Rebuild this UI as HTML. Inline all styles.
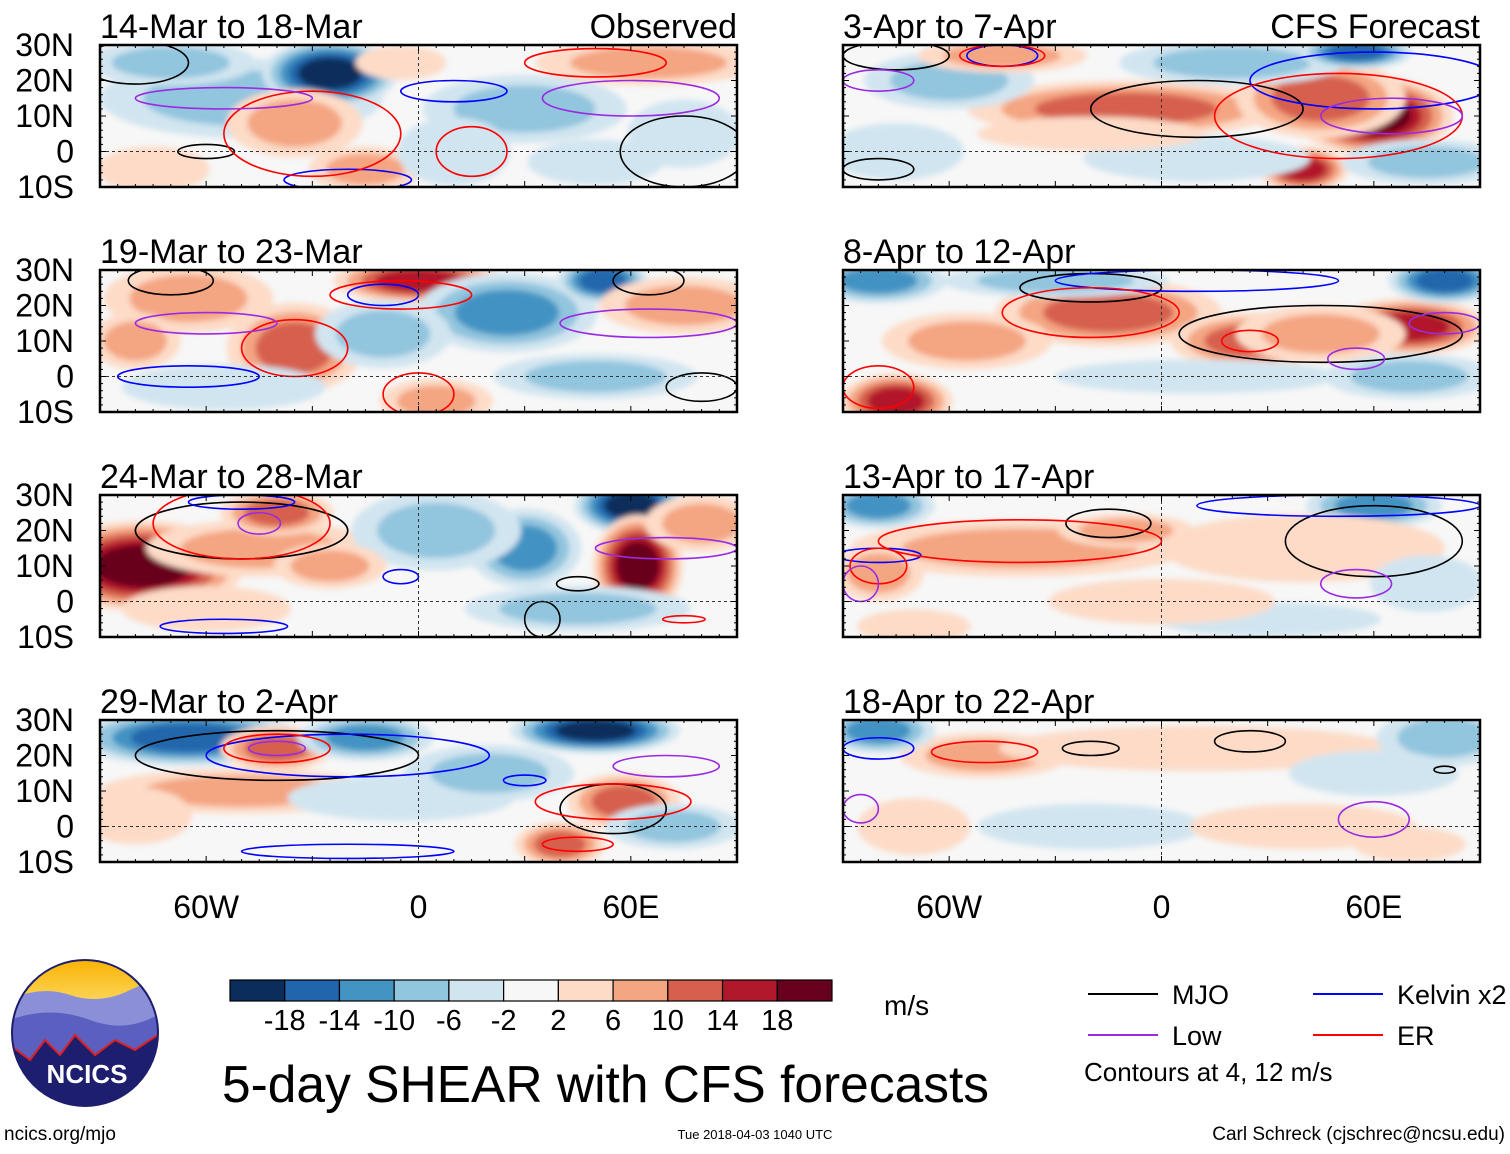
<!DOCTYPE html>
<html><head><meta charset="utf-8">
<style>
body{margin:0;background:#fff;width:1510px;height:1149px;overflow:hidden;font-family:"Liberation Sans",sans-serif}
svg text{font-family:"Liberation Sans",sans-serif}
</style></head>
<body>
<svg id="chart" width="1510" height="1149" xmlns="http://www.w3.org/2000/svg">
<defs>
<filter id="blur" x="-20%" y="-20%" width="140%" height="140%"><feGaussianBlur stdDeviation="3"/></filter>
<linearGradient id="sky" x1="0" y1="0" x2="0" y2="1"><stop offset="0" stop-color="#f9b200"/><stop offset="0.4" stop-color="#fde27a"/><stop offset="1" stop-color="#fff3c0"/></linearGradient>
<clipPath id="logoclip"><circle cx="85" cy="1033" r="73"/></clipPath>
</defs>
</svg>
<script>
// ---- data ----
const panelTitles = ["14-Mar to 18-Mar","19-Mar to 23-Mar","24-Mar to 28-Mar","29-Mar to 2-Apr","3-Apr to 7-Apr","8-Apr to 12-Apr","13-Apr to 17-Apr","18-Apr to 22-Apr"];
const latTicks = [30,20,10,0,-10];
const latLabels = ["30N","20N","10N","0","10S"];
const lonTicks = [-60,0,60];
const lonLabels = ["60W","0","60E"];
const levels = [-18,-14,-10,-6,-2,2,6,10,14,18];
const levelColors = ["#0b2d5c","#2166ac","#4393c3","#92c5de","#d1e5f0","#f7f7f7","#fddbc7","#f4a582","#d6604d","#b2182b","#67001f"];
// shading blobs per panel: [lon, lat, rLon, rLat, value]
const blobs0 = [[-50,15,25,7,-6],[-25,22,12,6,-18],[-70,25,15,4,-6],[-35,8,12,6,6],[-15,-5,10,4,6],[30,12,18,6,-6],[10,0,10,6,-4],[65,25,20,4,6],[-75,-5,10,4,4],[50,-3,12,4,-4],[-5,25,8,3,4],[75,5,10,6,-4]];
const blobs1 = [[-35,8,12,8,12],[0,27,15,4,14],[25,18,16,7,-10],[52,27,8,4,-14],[50,0,18,4,-6],[-65,22,15,6,6],[-80,10,8,5,6],[-55,-3,18,4,-4],[-10,12,12,6,-6],[5,-7,10,4,6],[75,20,15,5,6]];
const blobs2 = [[-78,10,18,8,18],[-45,15,20,5,6],[-40,25,10,4,10],[30,15,10,7,-10],[5,20,15,7,-6],[60,27,10,5,-18],[62,10,8,9,18],[-25,10,10,4,6],[45,-2,20,4,-6],[-60,-2,15,4,4],[80,22,10,5,6]];
const blobs3 = [[-65,25,20,5,-14],[-40,22,10,4,12],[-50,10,25,4,6],[-15,25,12,4,-10],[50,27,15,4,-18],[58,7,10,5,12],[40,-5,8,4,10],[72,0,12,4,-6],[-5,8,20,4,-4],[20,15,15,5,-6],[-80,3,10,5,4]];
const blobs4 = [[-10,12,28,5,10],[60,10,14,7,18],[45,15,15,7,12],[40,-5,8,4,14],[20,25,20,4,-6],[55,28,10,3,-14],[-60,20,15,5,-6],[-45,27,15,3,6],[75,-3,15,4,-6],[-75,0,12,5,-4],[10,-2,20,4,-4],[-20,5,20,3,4]];
const blobs5 = [[-15,18,20,6,10],[25,10,14,5,10],[70,14,14,5,14],[45,12,15,5,6],[80,27,10,4,-14],[-80,27,12,4,-10],[-75,-7,10,5,14],[70,0,15,4,-6],[-30,27,20,3,-6],[-55,10,15,5,6],[10,0,25,3,-4]];
const blobs6 = [[-40,15,30,5,6],[-10,20,12,3,6],[60,27,12,4,-10],[-80,27,10,4,-10],[-80,8,8,5,6],[40,15,25,6,4],[-70,-7,10,3,4],[30,-5,20,3,-4],[75,5,10,5,-4],[0,0,20,4,4]];
const blobs7 = [[-50,20,15,4,6],[-80,27,10,4,-10],[10,22,35,4,4],[80,25,12,5,-6],[-20,0,20,4,-4],[40,0,20,4,4],[60,15,15,4,-4],[-70,0,10,5,4],[70,-5,10,3,4]];
const blobsAll = [blobs0,blobs1,blobs2,blobs3,blobs4,blobs5,blobs6,blobs7];
// contours per panel: [type, lon, lat, rLon, rLat]
const contours0 = [["mjo",-80,25,15,6],["mjo",-60,0,8,2],["mjo",75,0,18,10],["kelvin",-20,-8,18,3],["kelvin",10,17,15,3],["er",-30,5,25,12],["er",15,0,10,7],["er",50,25,20,4],["low",60,15,25,5],["low",-55,15,25,3]];
const contours1 = [["mjo",-70,27,12,4],["mjo",80,-3,10,4],["mjo",65,27,10,4],["kelvin",-10,23,10,3],["kelvin",-65,0,20,3],["er",-35,8,15,8],["er",-5,23,20,4],["er",0,-5,10,6],["low",-60,15,20,3],["low",65,15,25,4]];
const contours2 = [["mjo",-50,20,30,8],["mjo",35,-5,5,5],["mjo",45,5,6,2],["kelvin",-55,-7,18,2],["kelvin",-50,28,15,2],["kelvin",-5,7,5,2],["er",-50,22,25,10],["er",75,-5,6,1],["low",-45,22,6,3],["low",70,15,20,3]];
const contours3 = [["mjo",-40,20,40,7],["mjo",55,5,15,7],["kelvin",-20,-7,30,2],["kelvin",-20,20,40,6],["kelvin",30,13,6,1.5],["er",-40,22,15,4],["er",55,7,22,5],["er",45,-5,10,2],["low",-40,22,8,2],["low",70,17,15,3]];
const contours4 = [["mjo",-75,27,15,4],["mjo",10,12,30,8],["mjo",-80,-5,10,3],["kelvin",60,20,35,8],["kelvin",-45,27,10,3],["er",50,10,35,12],["er",-45,27,12,3],["low",65,10,20,5],["low",-80,20,10,3]];
const contours5 = [["mjo",-20,25,20,4],["mjo",45,12,40,8],["kelvin",10,27,40,3],["er",-20,18,25,7],["er",25,10,8,3],["er",-80,-3,10,6],["low",55,5,8,3],["low",80,15,10,3]];
const contours6 = [["mjo",-15,22,12,4],["mjo",60,17,25,10],["kelvin",50,27,40,3],["kelvin",-80,13,12,2],["er",-40,17,40,6],["er",-80,10,8,5],["low",55,5,10,4],["low",-85,5,5,5]];
const contours7 = [["mjo",25,24,10,3],["mjo",-20,22,8,2],["mjo",80,16,3,1],["kelvin",-80,22,10,3],["er",-50,21,15,3],["low",60,2,10,5],["low",-85,5,5,4]];
const contoursAll = [contours0,contours1,contours2,contours3,contours4,contours5,contours6,contours7];
const colorbarLabels = ["-18","-14","-10","-6","-2","2","6","10","14","18"];

const NS="http://www.w3.org/2000/svg";
const svg=document.getElementById('chart');
function el(t,a,p){const e=document.createElementNS(NS,t);for(const k in a)e.setAttribute(k,a[k]);(p||svg).appendChild(e);return e;}
function colorFor(v){let i=0;while(i<levels.length&&v>levels[i])i++;return levelColors[i];}
const lineColors={mjo:"#000",kelvin:"#0000ff",er:"#ff0000",low:"#9a2be2"};
const panelX=[100,843], panelY=[45,270,495,720], pw=637, ph=142;
const SPREAD=1.6;

for(let p=0;p<8;p++){
  const col=p<4?0:1,row=p%4;
  const x0=panelX[col],y0=panelY[row];
  const X=lon=>x0+(lon+90)/180*pw;
  const Y=lat=>y0+(30-lat)/40*ph;
  const g=el('g',{});
  
  
  const cp=el('clipPath',{id:'cp'+p},g);
  el('rect',{x:x0,y:y0,width:pw,height:ph},cp);
  el('rect',{x:x0,y:y0,width:pw,height:ph,fill:'#f7f7f7'},g);
  const sg=el('g',{'clip-path':'url(#cp'+p+')'},g);
  const fg=el('g',{filter:'url(#blur)'},sg);
  blobsAll[p].forEach(b=>{
    const [lon,lat,rl,rt,v]=b;
    const steps=v>0?levels.filter(l=>l>0&&l<v+0.01):levels.filter(l=>l<0&&l>v-0.01).reverse();
    const n=steps.length;
    steps.forEach((l,k)=>{
      const s=SPREAD*(1-k/(n+0.3)*0.7);
      const e=el('ellipse',{cx:X(lon),cy:Y(lat),rx:rl/180*pw*s,ry:rt/40*ph*s,fill:colorFor(v>0?l+0.5:l-0.5)},fg);
      
      
    });
  });
  contoursAll[p].forEach(c=>{
    const e=el('ellipse',{cx:X(c[1]),cy:Y(c[2]),rx:c[3]/180*pw,ry:c[4]/40*ph,fill:'none',stroke:lineColors[c[0]],'stroke-width':1.6},sg);
    
    
  });
  el('line',{x1:x0,x2:x0+pw,y1:Y(0),y2:Y(0),stroke:'#333','stroke-dasharray':'3,3','stroke-width':1},g);
  el('line',{x1:X(0),x2:X(0),y1:y0,y2:y0+ph,stroke:'#333','stroke-dasharray':'3,3','stroke-width':1},g);
  for(let lon=-90;lon<=90;lon+=5){const L=lon%30===0?6:3;
    el('line',{x1:X(lon),x2:X(lon),y1:y0,y2:y0+L,stroke:'#000','stroke-width':1},g);
    el('line',{x1:X(lon),x2:X(lon),y1:y0+ph,y2:y0+ph-L,stroke:'#000','stroke-width':1},g);}
  for(let lat=-10;lat<=30;lat+=2){const L=lat%10===0?6:3;
    el('line',{x1:x0,x2:x0+L,y1:Y(lat),y2:Y(lat),stroke:'#000'},g);
    el('line',{x1:x0+pw,x2:x0+pw-L,y1:Y(lat),y2:Y(lat),stroke:'#000'},g);}
  el('rect',{x:x0,y:y0,width:pw,height:ph,fill:'none',stroke:'#000','stroke-width':2.5},g);
  const t=el('text',{x:x0,y:y0-7,'font-size':34},g);t.textContent=panelTitles[p];
  
  if(p===0){const o=el('text',{x:x0+pw,y:y0-7,'font-size':34,'text-anchor':'end'},g);o.textContent='Observed';}
  if(p===4){const o=el('text',{x:x0+pw,y:y0-7,'font-size':34,'text-anchor':'end'},g);o.textContent='CFS Forecast';}
  if(col===0){latTicks.forEach((lt,i)=>{const a=el('text',{x:74,y:Y(lt)+11,'font-size':32,'text-anchor':'end'},g);a.textContent=latLabels[i];
    });}
  if(row===3){lonTicks.forEach((ln,i)=>{const a=el('text',{x:X(ln),y:918,'font-size':32,'text-anchor':'middle'},g);a.textContent=lonLabels[i];
    });}
}
// colorbar
const cb=el('g',{});


const cbx=230,cbw=602/11;
levelColors.forEach((c,i)=>el('rect',{x:cbx+i*cbw,y:980,width:cbw,height:21,fill:c,stroke:'#000','stroke-width':1.2},cb));
colorbarLabels.forEach((l,i)=>{const t=el('text',{x:cbx+(i+1)*cbw,y:1030,'font-size':29,'text-anchor':'middle'},cb);t.textContent=l;});
const ms=el('text',{x:884,y:1015,'font-size':28},cb);ms.textContent='m/s';
// title
const tt=el('text',{x:222,y:1102,'font-size':51.5});tt.textContent='5-day SHEAR with CFS forecasts';

// legend
const lg=el('g',{});
[["MJO","mjo",1088,994],["Kelvin x2","kelvin",1313,994],["Low","low",1088,1035],["ER","er",1313,1035]].forEach(a=>{
  el('line',{x1:a[2],x2:a[2]+70,y1:a[3],y2:a[3],stroke:lineColors[a[1]],'stroke-width':2},lg);
  const t=el('text',{x:a[2]+84,y:a[3]+10,'font-size':27},lg);t.textContent=a[0];});
const ct=el('text',{x:1084,y:1081,'font-size':26},lg);ct.textContent='Contours at 4, 12 m/s';
// footer
const f1=el('text',{x:4,y:1140,'font-size':19});f1.textContent='ncics.org/mjo';
const f2=el('text',{x:755,y:1139,'font-size':13,'text-anchor':'middle'});f2.textContent='Tue 2018-04-03 1040 UTC';
const f3=el('text',{x:1505,y:1140,'font-size':19,'text-anchor':'end'});f3.textContent='Carl Schreck (cjschrec@ncsu.edu)';
// logo
const lo=el('g',{'clip-path':'url(#logoclip)'});
el('rect',{x:10,y:958,width:150,height:150,fill:'url(#sky)'},lo);
el('path',{d:'M10 1000 Q40 985 70 995 T130 990 T165 995 V1110 H10Z',fill:'#8a8fd8'},lo);
el('path',{d:'M10 1020 Q50 1005 90 1020 T165 1010 V1110 H10Z',fill:'#5a5fc0'},lo);
el('path',{d:'M10 1045 L30 1060 L45 1040 L60 1055 L75 1035 L95 1055 L115 1040 L135 1050 L165 1030 V1110 H10Z',fill:'#1e1e6e',stroke:'#e02020','stroke-width':2},lo);
el('circle',{cx:85,cy:1033,r:73,fill:'none',stroke:'#1e1e6e','stroke-width':2});
const nt=el('text',{x:87,y:1083,'font-size':26,'font-weight':'bold',fill:'#fff','text-anchor':'middle'});nt.textContent='NCICS';
</script>
</body></html>
